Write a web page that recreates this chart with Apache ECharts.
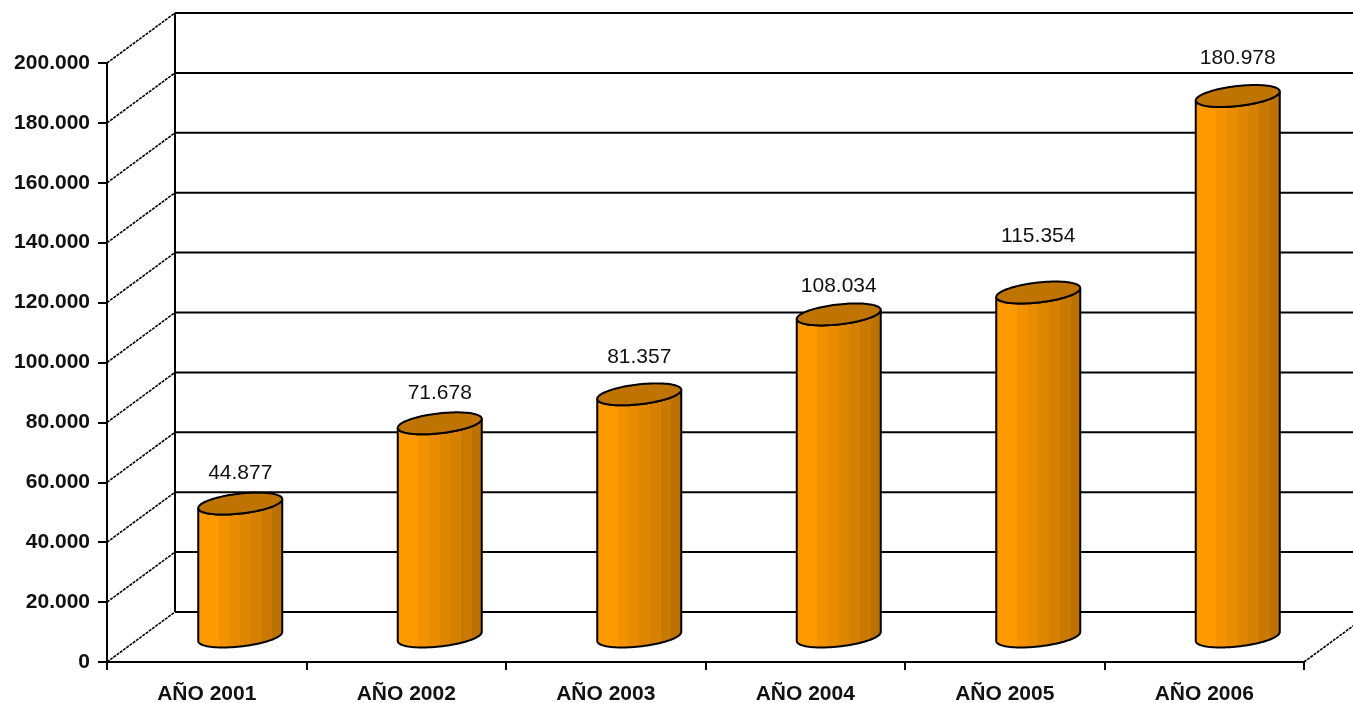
<!DOCTYPE html>
<html><head><meta charset="utf-8">
<style>html,body{margin:0;padding:0;background:#fff;overflow:hidden}#c{width:1353px;height:703px}</style>
<script src="https://cdn.jsdelivr.net/npm/echarts@6/dist/echarts.min.js"></script>
</head><body><div id="c"></div>
<script>
const categories = ['AÑO 2001','AÑO 2002','AÑO 2003','AÑO 2004','AÑO 2005','AÑO 2006'];
const values = [44877, 71678, 81357, 108034, 115354, 180978];
const gridTicks = [0,20000,40000,60000,80000,100000,120000,140000,160000,180000,200000];

// depth of the pseudo-3D box, in pixels
const DEPTH_X = 68, DEPTH_Y = 50;
const BAR_SHIFT_X = 33.5, BAR_SHIFT_Y = 24, BAR_HALF = 42, ELL_B = 10, ELL_S = 4.5;
const labelLift = [30, 30, 37, 28, 56, 38];
const fmt = v => String(v).replace(/\B(?=(\d{3})+$)/g, '.');
const stripes = ['#ff9900','#ff9900','#f29200','#e98c00','#df8600','#d58000','#c97900','#bb7000'];
function stripeFill(){
  const stops=[], n=stripes.length;
  stripes.forEach((c,i)=>{stops.push({offset:i/n,color:c});stops.push({offset:(i+1)/n,color:c});});
  return new echarts.graphic.LinearGradient(0,0,1,0,stops);
}
function ell(cx,cy,t0,t1,steps){
  const p=[];
  for(let i=0;i<=steps;i++){
    const t=t0+(t1-t0)*i/steps;
    p.push([cx+BAR_HALF*Math.cos(t), cy+ELL_B*Math.sin(t)-ELL_S*Math.cos(t)]);
  }
  return p;
}
const chart = echarts.init(document.getElementById('c'),null,{renderer:'canvas'});
const black='#000';
chart.setOption({
  animation:false,
  backgroundColor:'#fff',
  grid:{left:107,right:49,top:63,bottom:41,containLabel:false,outerBoundsMode:'none'},
  xAxis:{type:'category',data:categories,boundaryGap:true,
    axisLine:{show:true,lineStyle:{color:black,width:2}},
    axisTick:{show:true,length:8,alignWithLabel:false,lineStyle:{color:black,width:2}},
    axisLabel:{margin:22,color:'#111',fontFamily:'Liberation Sans',fontWeight:'bold',fontSize:21,interval:0},
    splitLine:{show:false}},
  yAxis:{type:'value',min:0,max:200000,interval:20000,
    axisLine:{show:true,lineStyle:{color:black,width:2}},
    axisTick:{show:true,length:9,lineStyle:{color:black,width:2}},
    axisLabel:{margin:17,color:'#111',fontFamily:'Liberation Sans',fontWeight:'bold',fontSize:21,formatter:fmt},
    splitLine:{show:false}},
  series:[
    {type:'custom',name:'frame',coordinateSystem:'cartesian2d',clip:false,silent:true,z:1,
     data:gridTicks.map(v=>[0,v]),encode:{x:0,y:1},
     renderItem(params,api){
       const p=api.coord([0,api.value(1)]);
       const band=api.size([1,0])[0];
       const x0=p[0]-band/2, y0=p[1];
       const total=categories.length*band;
       const kids=[
        {type:'line',shape:{x1:x0+DEPTH_X,y1:y0-DEPTH_Y,x2:x0+total+DEPTH_X,y2:y0-DEPTH_Y},style:{stroke:black,lineWidth:2}},
        {type:'line',shape:{x1:x0,y1:y0,x2:x0+DEPTH_X,y2:y0-DEPTH_Y},style:{stroke:black,lineWidth:1.6,lineDash:[3,1]}}
       ];
       if(api.value(1)===0){
        const top=api.coord([0,200000])[1];
        kids.push({type:'line',shape:{x1:x0+DEPTH_X,y1:y0-DEPTH_Y,x2:x0+DEPTH_X,y2:top-DEPTH_Y},style:{stroke:black,lineWidth:2}});
        kids.push({type:'line',shape:{x1:x0+total,y1:y0,x2:x0+total+DEPTH_X,y2:y0-DEPTH_Y},style:{stroke:black,lineWidth:1.6,lineDash:[3,1]}});
       }
       return {type:'group',children:kids};
     }},
    {type:'custom',name:'cylinders',coordinateSystem:'cartesian2d',clip:false,z:3,
     data:values.map((v,i)=>[i,v]),encode:{x:0,y:1},
     renderItem(params,api){
       const i=api.value(0), v=api.value(1);
       const t=api.coord([i,v]), b=api.coord([i,0]);
       const cx=t[0]+BAR_SHIFT_X, ty=t[1]-BAR_SHIFT_Y, by=b[1]-BAR_SHIFT_Y-1.5;
       const bodyPts=ell(cx,ty,0,Math.PI,48).reverse().concat(ell(cx,by,0,Math.PI,48));
       return {type:'group',children:[
         {type:'polygon',shape:{points:bodyPts},style:{fill:stripeFill(),stroke:black,lineWidth:2}},
         {type:'polygon',shape:{points:ell(cx,ty,0,2*Math.PI,96)},style:{fill:'#bf7300',stroke:black,lineWidth:2}},
         {type:'text',style:{x:cx,y:ty-labelLift[i],text:fmt(v),align:'center',verticalAlign:'middle',
           font:'21px "Liberation Sans"',fill:'#111'}}
       ]};
     }}
  ]
});
</script></body></html>
